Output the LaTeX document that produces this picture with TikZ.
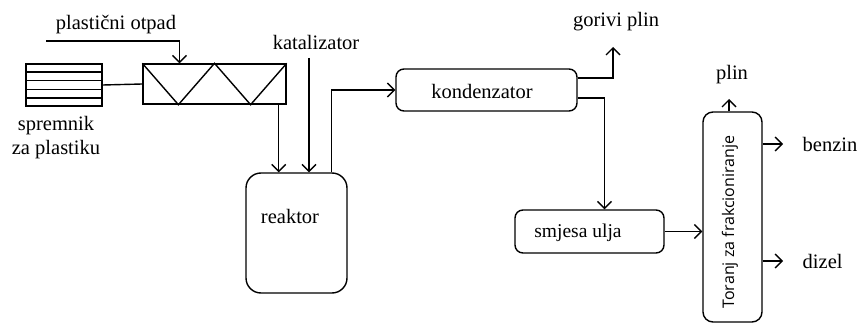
\documentclass[tikz,border=0pt]{standalone}
\usepackage{fontspec}
\setmainfont{Liberation Serif}
\newfontfamily\toranjfont{Open Sans}
\usetikzlibrary{arrows.meta,positioning,calc}

\begin{document}
\begin{tikzpicture}[
    x=1pt, y=-1pt,
    line width=1.4pt,
    every node/.style={font=\rmfamily\fontsize{20.5}{24}\selectfont},
    plain/.style={rectangle, draw, inner sep=0pt},
    unit/.style={rectangle, draw, rounded corners=8pt, inner sep=0pt},
    txt/.style={inner sep=0pt, align=center},
    arr/.style={-{Straight Barb[length=7pt,width=14pt]}}
]
    \useasboundingbox (0,0) rectangle (860,323);

    % Spremnik i puz
    \node[plain, minimum width=76pt, minimum height=42pt] (spremnik) at (64,85) {};
    \foreach \s in {1,...,4}
        \draw[line width=1.2pt] ($(spremnik.north west)!\s/5!(spremnik.south west)$) -- ($(spremnik.north east)!\s/5!(spremnik.south east)$);
    \node[txt, below=9pt of spremnik, xshift=-8pt] (spremniktxt) {spremnik\\za plastiku};

    \node[plain, minimum width=143pt, minimum height=40pt] (puz) at (214.5,84) {};
    \draw (puz.north west) -- ($(puz.south west)!0.25!(puz.south east)$) -- (puz.north)
        -- ($(puz.south west)!0.75!(puz.south east)$) -- (puz.north east);
    \draw (spremnik.east) -- (puz.west);

    \node[txt] (otpad) at (116,25) {plastični otpad};
    \coordinate (otpad0) at (46,41);
    \draw[arr] (otpad0) -| ([xshift=-35pt]puz.north);

    % Reaktor
    \node[unit, rounded corners=15pt, minimum width=101pt, minimum height=120pt] (reaktor) at (296.5,233) {};
    \node[txt] (reaktortxt) at (290,216) {reaktor};
    \node[txt] (katalizator) at (316,42) {katalizator};
    \coordinate (kat0) at (309,58);

    \draw[arr] ([xshift=-8pt]puz.south east) -- ([xshift=-8pt]puz.south east |- reaktor.north);
    \draw[arr] (kat0) -- (kat0 |- reaktor.north);

    % Kondenzator
    \node[unit, minimum width=181pt, minimum height=42pt] (kondenzator) at (486.5,90) {};
    \node[txt] (kondenzatortxt) at (482,91) {kondenzator};
    \draw[arr] ([xshift=35pt]reaktor.north) |- (kondenzator.west);

    \node[txt] (gorivi) at (616,22) {gorivi plin};
    \coordinate (gorivi0) at (613,47);
    \draw[arr] ([yshift=12pt]kondenzator.east) -| (gorivi0);

    % Smjesa ulja i toranj
    \node[unit, minimum width=149pt, minimum height=43pt] (smjesa) at (589.5,231.5) {};
    \node[txt, font=\rmfamily\fontsize{19.5}{23}\selectfont] (smjesatxt) at (578,233) {smjesa ulja};
    \draw[arr] ([yshift=-8pt]kondenzator.east) -| ([xshift=15pt]smjesa.north);

    \node[unit, rounded corners=10pt, minimum width=59pt, minimum height=210pt] (toranj) at (732.5,217) {};
    \node[rotate=90, inner sep=0pt, font=\toranjfont\fontsize{16}{19}\selectfont] (toranjtxt) at (730,222) {Toranj za frakcioniranje};
    \draw[arr] (smjesa.east) -- (smjesa.east -| toranj.west);

    \node[txt] (plin) at (732,75) {plin};
    \coordinate (plin0) at (729,99);
    \draw[arr] (plin0 |- toranj.north) -- (plin0);

    \node[txt, anchor=west] (benzin) at (802,144) {benzin};
    \node[txt, anchor=west] (dizel) at (802,261) {dizel};
    \draw[arr] (toranj.east |- benzin.west) -- ([xshift=-19pt]benzin.west);
    \draw[arr] (toranj.east |- dizel.west) -- ([xshift=-19pt]dizel.west);
\end{tikzpicture}
\end{document}
